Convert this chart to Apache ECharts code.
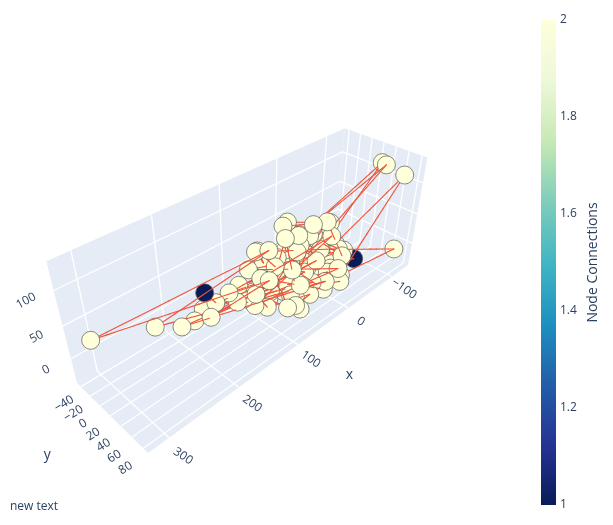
<!DOCTYPE html>
<html>
<head>
<meta charset="utf-8">
<script src="https://cdn.jsdelivr.net/npm/echarts@6/dist/echarts.min.js"></script>
<style>
  html, body { margin: 0; padding: 0; background: #fff; }
  #chart { width: 613px; height: 525px; }
</style>
</head>
<body>
<div id="chart"></div>
<script>
// nodes, listed along the chain (x, y, z in data units)
var nodeX = [181, 171, -45, 222, 5, 244, 104, 312, 113, 185, -48, 193, -11, 169, 20, 126, 15, 146, -10, 100,
  19, -131, 13, -131, -18, -131, -28, -135, -64, 40, -35, 59, 42, -39, 42, -70, 7, -7, 52, -21,
  -2, -27, -23, -45, 106, 72, 93, 82, 26, 55, 61, 25, 60, 58, 56, 53, 75, 36, 95, 125,
  66, 43, 30, 90, 82, 100, -14, -31, 43, -6,
  150, -24, 125, -58, 118, -7, 117, -14, 117, 8, 68, -13, 63, 25, 79, 65, 54, 9, -70];
var nodeY = [13, 20, 20, 20, 50, 0, 40, -21, 50, 27, 0, 6, 40, -7, 40, 20, 40, 30, 20, 10,
  20, 34, 30, 27, 20, 66, 50, 62, 10, 10, 20, 20, 10, 0, 30, -10, 20, -10, 40, 0,
  40, 50, 10, 30, 20, 0, 10, 30, -10, 20, 40, 30, 20, 30, 50, 40, 60, 50, 30, 40,
  0, 10, -20, 60, 20, 0, 60, 30, 20, 0,
  20, 10, 10, 30, 20, 60, 30, 40, 40, 50, 20, 10, 40, 20, 20, 30, 50, 20, 40];
var nodeZ = [48, 31, -19, 25, -12, 26, 84, 37, 49, 21, -28, 7, -10, 3, -11, 10, 23, 23, -17, 1,
  15, 111, 75, 112, 15, -17, -19, 104, -2, 82, 52, 89, 39, 26, 46, -29, 50, 31, 81, 8,
  77, 15, 24, 8, 73, 28, 63, 43, 20, 7, 32, 4, -3, 1, 10, -18, -7, -17, -16, 29,
  -22, -31, -19, -2, -16, -9, -17, -19, 25, 8,
  34, -17, 26, -1, 52, 9, 0, 49, 49, -24, 45, 39, -8, 43, -5, 78, -32, -3, -17];
var nodeConnections = [1, 2, 2, 2, 2, 2, 2, 2, 2, 2, 2, 2, 2, 2, 2, 2, 2, 2, 2, 2,
  2, 2, 2, 2, 2, 2, 2, 2, 2, 2, 2, 2, 2, 2, 2, 2, 2, 2, 2, 2,
  2, 2, 2, 2, 2, 2, 2, 2, 2, 2, 2, 2, 2, 2, 2, 2, 2, 2, 2, 2,
  2, 2, 2, 2, 2, 2, 2, 2, 2, 2,
  2, 2, 2, 2, 2, 2, 2, 2, 2, 2, 2, 2, 2, 2, 2, 2, 2, 2, 1];
var edges = [[0, 1], [1, 2], [2, 3], [3, 4], [4, 5], [5, 6], [6, 7], [7, 8], [8, 9], [9, 10],
  [10, 11], [11, 12], [12, 13], [13, 14], [14, 15], [15, 16], [16, 17], [17, 18], [18, 19], [19, 20],
  [20, 21], [21, 22], [22, 23], [23, 24], [24, 25], [25, 26], [26, 27], [27, 28], [28, 29], [29, 30],
  [30, 31], [31, 32], [32, 33], [33, 34], [34, 35], [35, 36], [36, 37], [37, 38], [38, 39], [39, 40],
  [40, 41], [41, 42], [42, 43], [43, 44], [44, 45], [45, 46], [46, 47], [47, 48], [48, 49], [49, 50],
  [50, 51], [51, 52], [52, 53], [53, 54], [54, 55], [55, 56], [56, 57], [57, 58], [58, 59], [59, 60],
  [60, 61], [61, 62], [62, 63], [63, 64], [64, 65], [65, 66], [66, 67], [67, 68], [68, 69], [69, 70],
  [70, 71], [71, 72], [72, 73], [73, 74], [74, 75], [75, 76], [76, 77], [77, 78], [78, 79], [79, 80],
  [80, 81], [81, 82], [82, 83], [83, 84], [84, 85], [85, 86], [86, 87], [87, 88]];

var xTicks = [-100, 0, 100, 200, 300];
var yTicks = [-40, -20, 0, 20, 40, 60, 80];
var zTicks = [0, 50, 100];
var xRange = [-140, 327];
var yRange = [-48, 88];
var zRange = [-40, 138];
var colorRange = [1, 2];

var ylgnbu = ['#081d58', '#253494', '#225ea8', '#1d91c0', '#41b6c4', '#7fcdbb', '#c7e9b4', '#edf8d9', '#ffffd9'];
var textColor = '#2a3f5f';
var fontFamily = '"Open Sans", verdana, arial, sans-serif';

// perspective camera of the scene: box coords (0..1 on each axis) -> page pixels
var cam = [
  [-280.1, 39.1, -27.0, 335.6],
  [46.08, 13.47, -115.2, 229.9],
  [-0.2793, -0.0816, -0.105, 1]
];

function norm(v, r) { return (v - r[0]) / (r[1] - r[0]); }

function toScreen(u, v, w) {
  var r = cam.map(function (row) { return row[0] * u + row[1] * v + row[2] * w + row[3]; });
  return [r[0] / r[2], r[1] / r[2], r[2]];
}

function depthKey(w) { return Math.round((2 - w) * 100000); }

function fmt(v) { return v < 0 ? '\u2212' + Math.abs(v) : String(v); }

// background walls
var walls = [
  [[0, 0, 0], [1, 0, 0], [1, 1, 0], [0, 1, 0]],
  [[0, 0, 0], [1, 0, 0], [1, 0, 1], [0, 0, 1]],
  [[0, 0, 0], [0, 1, 0], [0, 1, 1], [0, 0, 1]]
];
var wallData = walls.map(function (wl) {
  var d = [];
  wl.forEach(function (c) {
    var p = toScreen(c[0], c[1], c[2]);
    d.push(p[0], p[1]);
  });
  return d;
});

// grid lines on the walls
var gridData = [];
function addGrid(a, b) {
  var p = toScreen(a[0], a[1], a[2]), q = toScreen(b[0], b[1], b[2]);
  gridData.push([p[0], p[1], q[0], q[1]]);
}
xTicks.forEach(function (t) {
  var u = norm(t, xRange);
  addGrid([u, 0, 0], [u, 1, 0]);
  addGrid([u, 0, 0], [u, 0, 1]);
});
yTicks.forEach(function (t) {
  var v = norm(t, yRange);
  addGrid([0, v, 0], [1, v, 0]);
  addGrid([0, v, 0], [0, v, 1]);
});
zTicks.forEach(function (t) {
  var w = norm(t, zRange);
  addGrid([0, 0, w], [1, 0, w]);
  addGrid([0, 0, w], [0, 1, w]);
});

// nodes
var nodeData = nodeX.map(function (x, i) {
  var p = toScreen(norm(x, xRange), norm(nodeY[i], yRange), norm(nodeZ[i], zRange));
  return [p[0], p[1], p[2], nodeConnections[i]];
});

// edges, cut in pieces so that they sort in depth with the nodes
var edgeData = [];
var pieces = 12;
edges.forEach(function (e) {
  var a = [norm(nodeX[e[0]], xRange), norm(nodeY[e[0]], yRange), norm(nodeZ[e[0]], zRange)];
  var b = [norm(nodeX[e[1]], xRange), norm(nodeY[e[1]], yRange), norm(nodeZ[e[1]], zRange)];
  function at(t) { return toScreen(a[0] + (b[0] - a[0]) * t, a[1] + (b[1] - a[1]) * t, a[2] + (b[2] - a[2]) * t); }
  for (var k = 0; k < pieces; k++) {
    var p = at(k / pieces), q = at((k + 1) / pieces), m = at((k + 0.5) / pieces);
    edgeData.push([p[0], p[1], q[0], q[1], m[2]]);
  }
});

// tick labels, a little outside the box edges
function labelData(ticks, place) {
  return ticks.map(function (t) {
    var c = place(t);
    var p = toScreen(c[0], c[1], c[2]);
    return [p[0], p[1], t];
  });
}
var xLabels = labelData(xTicks, function (t) { return [norm(t, xRange), 1.16, -0.06]; });
var yLabels = labelData(yTicks, function (t) { return [1.05, norm(t, yRange), -0.06]; });
var zLabels = labelData(zTicks, function (t) { return [1.06, -0.03, norm(t, zRange)]; });
var xTitle = toScreen(0.43, 1.4, -0.25);
var yTitle = toScreen(1.15, 0.38, -0.1);

function labelSeries(data, rot) {
  return {
    type: 'custom', xAxisIndex: 0, yAxisIndex: 0, z: 5, silent: true,
    data: data, encode: { x: 0, y: 1 },
    renderItem: function (params, api) {
      var c = api.coord([api.value(0), api.value(1)]);
      return {
        type: 'text', x: c[0], y: c[1], rotation: rot,
        style: { text: fmt(api.value(2)), fill: textColor, fontSize: 12, fontFamily: fontFamily, align: 'center', verticalAlign: 'middle' }
      };
    }
  };
}

var chart = echarts.init(document.getElementById('chart'));
var option = {
  animation: false,
  backgroundColor: '#fff',
  grid: [
    { left: 0, top: 0, width: 613, height: 525 },
    { left: 541, top: 20, width: 15, height: 485 }
  ],
  xAxis: [
    { type: 'value', gridIndex: 0, min: 0, max: 613, show: false },
    { type: 'value', gridIndex: 1, min: 0, max: 1, show: false }
  ],
  yAxis: [
    { type: 'value', gridIndex: 0, min: 0, max: 525, inverse: true, show: false },
    {
      type: 'value', gridIndex: 1, min: colorRange[0], max: colorRange[1], interval: 0.2, position: 'right',
      name: 'Node Connections', nameLocation: 'middle', nameRotate: 90, nameGap: 30,
      nameTextStyle: { color: textColor, fontSize: 14, fontFamily: fontFamily },
      axisLine: { show: false }, axisTick: { show: false }, splitLine: { show: false },
      axisLabel: { color: textColor, fontSize: 12, fontFamily: fontFamily, margin: 4,
        formatter: function (v) { return String(+v.toFixed(1)); } }
    }
  ],
  visualMap: {
    show: false, type: 'continuous', seriesIndex: 3, dimension: 3,
    min: colorRange[0], max: colorRange[1], inRange: { color: ylgnbu }
  },
  graphic: [{
    type: 'text', left: 10, top: 501,
    style: { text: 'new text', fill: textColor, fontSize: 12, fontFamily: fontFamily }
  }],
  series: [
    {
      type: 'custom', xAxisIndex: 0, yAxisIndex: 0, z: 0, silent: true,
      data: wallData, encode: { x: 0, y: 1 },
      renderItem: function (params, api) {
        var pts = [];
        for (var i = 0; i < 4; i++) pts.push(api.coord([api.value(2 * i), api.value(2 * i + 1)]));
        return { type: 'polygon', shape: { points: pts }, style: { fill: '#E5ECF6' } };
      }
    },
    {
      type: 'custom', xAxisIndex: 0, yAxisIndex: 0, z: 1, silent: true,
      data: gridData, encode: { x: [0, 2], y: [1, 3] },
      renderItem: function (params, api) {
        var p = api.coord([api.value(0), api.value(1)]), q = api.coord([api.value(2), api.value(3)]);
        return { type: 'line', shape: { x1: p[0], y1: p[1], x2: q[0], y2: q[1] }, style: { stroke: '#ffffff', lineWidth: 1.3 } };
      }
    },
    {
      type: 'custom', xAxisIndex: 0, yAxisIndex: 0, z: 2, silent: true,
      data: edgeData, encode: { x: [0, 2], y: [1, 3] },
      renderItem: function (params, api) {
        var p = api.coord([api.value(0), api.value(1)]), q = api.coord([api.value(2), api.value(3)]);
        return {
          type: 'line', z2: depthKey(api.value(4)),
          shape: { x1: p[0], y1: p[1], x2: q[0], y2: q[1] },
          style: { stroke: '#EF553B', lineWidth: 1.1, lineCap: 'round' }
        };
      }
    },
    {
      type: 'custom', xAxisIndex: 0, yAxisIndex: 0, z: 2, silent: true,
      data: nodeData, encode: { x: 0, y: 1 },
      renderItem: function (params, api) {
        var c = api.coord([api.value(0), api.value(1)]);
        return {
          type: 'circle', z2: depthKey(api.value(2)),
          shape: { cx: c[0], cy: c[1], r: 9 },
          style: { fill: api.visual('color'), stroke: '#5a5a5a', lineWidth: 0.7 }
        };
      }
    },
    {
      type: 'custom', xAxisIndex: 1, yAxisIndex: 1, silent: true,
      data: [[0, colorRange[0]]], encode: { x: 0, y: 1 },
      renderItem: function (params, api) {
        var p0 = api.coord([0, colorRange[0]]), p1 = api.coord([1, colorRange[1]]);
        var stops = ylgnbu.map(function (c, i) { return { offset: i / (ylgnbu.length - 1), color: c }; });
        return {
          type: 'rect',
          shape: { x: p0[0], y: p1[1], width: p1[0] - p0[0], height: p0[1] - p1[1] },
          style: { fill: new echarts.graphic.LinearGradient(0, 1, 0, 0, stops) }
        };
      }
    },
    labelSeries(xLabels, -0.6),
    labelSeries(yLabels, 0.55),
    labelSeries(zLabels, 0.5),
    {
      type: 'custom', xAxisIndex: 0, yAxisIndex: 0, z: 5, silent: true,
      data: [[xTitle[0], xTitle[1]], [yTitle[0], yTitle[1]]], encode: { x: 0, y: 1 },
      renderItem: function (params, api) {
        var c = api.coord([api.value(0), api.value(1)]);
        return {
          type: 'text', x: c[0], y: c[1],
          style: { text: params.dataIndex === 0 ? 'x' : 'y', fill: textColor, fontSize: 14, fontFamily: fontFamily, align: 'center', verticalAlign: 'middle' }
        };
      }
    }
  ]
};
chart.setOption(option);
</script>
</body>
</html>
